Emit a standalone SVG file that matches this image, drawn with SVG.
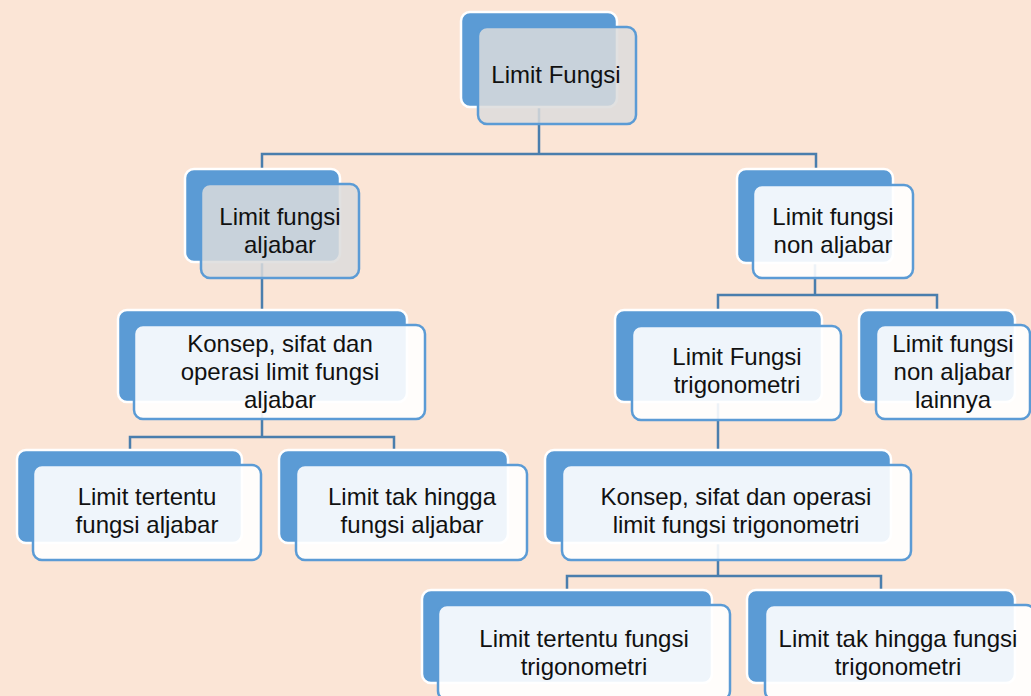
<svg xmlns="http://www.w3.org/2000/svg" width="1031" height="696" viewBox="0 0 1031 696">
<style>
.bk{fill:#5B9BD5;stroke:#FFFFFF;stroke-width:2.5}
.fr{fill:#FFFFFF;fill-opacity:0.9;stroke:#5B9BD5;stroke-width:2.5}
.gr{fill:#DCDCDC;fill-opacity:0.85;stroke:#5B9BD5;stroke-width:2.5}
.t{font-family:"Liberation Sans",Arial,sans-serif;font-size:24px;fill:#111111;text-anchor:middle}
.c{fill:none;stroke:#4A7EAD;stroke-width:2.5}
</style>
<rect x="0" y="0" width="1031" height="696" fill="#FBE5D6"/>
<g id="connectors">
<path class="c" d="M539 107 V154 M262 168 V154 H816 V168"/>
<path class="c" d="M262 262 V310"/>
<path class="c" d="M262 402 V437 M130 450 V437 H394 V450"/>
<path class="c" d="M815 263 V295 M718 310 V295 H937 V310"/>
<path class="c" d="M718 402 V450"/>
<path class="c" d="M718 543 V576 M567 590 V576 H881 V590"/>
</g>
<g id="n1">
<rect class="bk" x="461" y="12" width="156" height="95" rx="9"/>
<rect class="gr" x="478" y="27" width="158" height="97" rx="9"/>
<text class="t" x="556" y="83">Limit Fungsi</text>
</g>
<g id="n2">
<rect class="bk" x="185" y="169" width="155" height="93" rx="9"/>
<rect class="gr" x="201" y="184" width="158" height="94" rx="9"/>
<text class="t" x="280" y="225">Limit fungsi</text>
<text class="t" x="280" y="253">aljabar</text>
</g>
<g id="n3">
<rect class="bk" x="737" y="169" width="156" height="94" rx="9"/>
<rect class="fr" x="753" y="185" width="160" height="93" rx="9"/>
<text class="t" x="833" y="225">Limit fungsi</text>
<text class="t" x="833" y="253">non aljabar</text>
</g>
<g id="n4">
<rect class="bk" x="118" y="310" width="289" height="92" rx="9"/>
<rect class="fr" x="134" y="325" width="291" height="94" rx="9"/>
<text class="t" x="280" y="352">Konsep, sifat dan</text>
<text class="t" x="280" y="380">operasi limit fungsi</text>
<text class="t" x="280" y="408">aljabar</text>
</g>
<g id="n5">
<rect class="bk" x="17" y="450" width="225" height="93" rx="9"/>
<rect class="fr" x="33" y="465" width="228" height="95" rx="9"/>
<text class="t" x="147" y="505">Limit tertentu</text>
<text class="t" x="147" y="533">fungsi aljabar</text>
</g>
<g id="n6">
<rect class="bk" x="279" y="450" width="229" height="93" rx="9"/>
<rect class="fr" x="296" y="465" width="231" height="95" rx="9"/>
<text class="t" x="412" y="505">Limit tak hingga</text>
<text class="t" x="412" y="533">fungsi aljabar</text>
</g>
<g id="n7">
<rect class="bk" x="615" y="310" width="207" height="92" rx="9"/>
<rect class="fr" x="632" y="326" width="209" height="94" rx="9"/>
<text class="t" x="737" y="365">Limit Fungsi</text>
<text class="t" x="737" y="393">trigonometri</text>
</g>
<g id="n8">
<rect class="bk" x="859" y="310" width="156" height="92" rx="9"/>
<rect class="fr" x="876" y="325" width="154" height="94" rx="9"/>
<text class="t" x="953" y="352">Limit fungsi</text>
<text class="t" x="953" y="380">non aljabar</text>
<text class="t" x="953" y="408">lainnya</text>
</g>
<g id="n9">
<rect class="bk" x="545" y="450" width="346" height="93" rx="9"/>
<rect class="fr" x="562" y="465" width="349" height="95" rx="9"/>
<text class="t" x="736" y="505">Konsep, sifat dan operasi</text>
<text class="t" x="736" y="533">limit fungsi trigonometri</text>
</g>
<g id="n10">
<rect class="bk" x="422" y="590" width="290" height="93" rx="9"/>
<rect class="fr" x="438" y="605" width="292" height="95" rx="9"/>
<text class="t" x="584" y="647">Limit tertentu fungsi</text>
<text class="t" x="584" y="675">trigonometri</text>
</g>
<g id="n11">
<rect class="bk" x="747" y="590" width="268" height="93" rx="9"/>
<rect class="fr" x="765" y="605" width="270" height="95" rx="9"/>
<text class="t" x="898" y="647">Limit tak hingga fungsi</text>
<text class="t" x="898" y="675">trigonometri</text>
</g>
</svg>
